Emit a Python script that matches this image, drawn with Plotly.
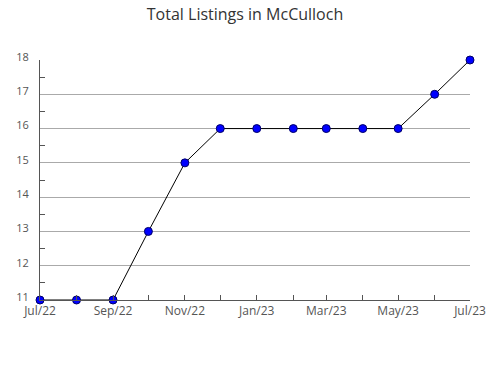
import plotly.graph_objects as go

months = ["2022-07-01", "2022-08-01", "2022-09-01", "2022-10-01", "2022-11-01", "2022-12-01",
          "2023-01-01", "2023-02-01", "2023-03-01", "2023-04-01", "2023-05-01", "2023-06-01", "2023-07-01"]
listings = [11, 11, 11, 13, 15, 16, 16, 16, 16, 16, 16, 17, 18]

fig = go.Figure()
fig.add_trace(go.Scatter(
    x=months, y=listings, mode="lines+markers",
    line=dict(color="black", width=1),
    marker=dict(color="#0000ff", size=8, line=dict(color="#000066", width=1)),
    cliponaxis=False, showlegend=False,
))

fig.update_layout(
    width=490, height=380,
    margin=dict(l=40, r=20, t=60, b=80, autoexpand=False),
    paper_bgcolor="white", plot_bgcolor="white",
    font=dict(family="Open Sans", color="#555555", size=11),
    title=dict(text="Total Listings in McCulloch", x=0.5, xanchor="center", y=0.962, yanchor="middle",
               font=dict(family="Open Sans", size=16, color="#333333")),
)
fig.update_xaxes(
    type="date", range=["2022-07-01", "2023-07-01"], automargin=False,
    dtick="M2", tick0="2022-07-01", tickformat="%b/%y",
    ticks="inside", ticklen=5, tickcolor="#555555",
    minor=dict(dtick="M1", ticks="inside", ticklen=5, tickcolor="#555555", showgrid=False),
    showline=True, linecolor="#555555", linewidth=1, showgrid=False, zeroline=False,
    tickfont=dict(size=12, color="#555555"),
)
fig.update_yaxes(
    range=[11, 18], dtick=1, tick0=11, automargin=False,
    ticks="inside", ticklen=0, tickcolor="#555555",
    minor=dict(dtick=0.5, tick0=11, ticks="inside", ticklen=5, tickcolor="#555555", showgrid=False),
    showline=True, linecolor="#555555", linewidth=1,
    showgrid=True, gridcolor="#aaaaaa", gridwidth=1, zeroline=False,
    ticklabelstandoff=8, ticklabelshift=-3,
    tickfont=dict(size=11, color="#555555"),
)

fig.write_html("out.html")
